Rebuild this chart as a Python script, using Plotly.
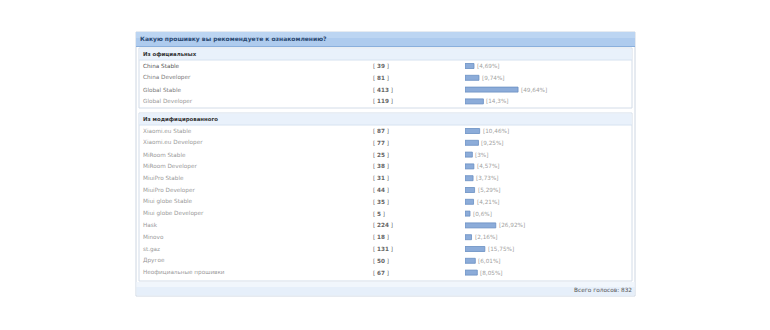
import plotly.graph_objects as go

# ---------------- data ----------------
title = "Какую прошивку вы рекомендуете к ознакомлению?"
section_names = ["Из официальных", "Из модифицированного"]
official_labels = ["China Stable", "China Developer", "Global Stable", "Global Developer"]
official_votes = [39, 81, 413, 119]
official_pct = [4.69, 9.74, 49.64, 14.3]
modified_labels = ["Xiaomi.eu Stable", "Xiaomi.eu Developer", "MiRoom Stable", "MiRoom Developer",
                   "MiuiPro Stable", "MiuiPro Developer", "Miui globe Stable", "Miui globe Developer",
                   "Hask", "Minovo", "st.gaz", "Другое", "Неофициальные прошивки"]
modified_votes = [87, 77, 25, 38, 31, 44, 35, 5, 224, 18, 131, 50, 67]
modified_pct = [10.46, 9.25, 3, 4.57, 3.73, 5.29, 4.21, 0.6, 26.92, 2.16, 15.75, 6.01, 8.05]
total_votes = 832

# ---------------- layout helpers ----------------
W, H = 770, 330
FONT = "DejaVu Sans"
PITCH = 11.8
SEC1_FIRST = 66
SEC2_FIRST = 131
BAR_X0 = 465
PX_PER_PCT = 0.98
BAR_MIN = 4.5  # bars start slightly before zero (min width)

def px(x):
    return x / W

def py(y):
    return 1 - y / H

def fmt_pct(p):
    s = ("%.2f" % p).rstrip("0").rstrip(".")
    return "[" + s.replace(".", ",") + "%]"

rows = []
for i, (l, v, p) in enumerate(zip(official_labels, official_votes, official_pct)):
    rows.append((l, v, p, SEC1_FIRST + i * PITCH))
for j, (l, v, p) in enumerate(zip(modified_labels, modified_votes, modified_pct)):
    rows.append((l, v, p, SEC2_FIRST + j * PITCH))

fig = go.Figure()
fig.add_trace(go.Bar(
    orientation="h",
    x=[r[2] + BAR_MIN for r in rows],
    base=-BAR_MIN,
    y=[r[3] for r in rows],
    width=5,
    marker=dict(color="#8cacd9", line=dict(color="#6a8fc3", width=0.8)),
    hoverinfo="skip",
))

shapes = []
def rect(x0, y0, x1, y1, fill, line=None, lw=1):
    shapes.append(dict(type="rect", xref="paper", yref="paper",
                       x0=px(x0), x1=px(x1), y0=py(y1), y1=py(y0),
                       fillcolor=fill, line=dict(color=line or "rgba(0,0,0,0)", width=lw if line else 0),
                       layer="below"))

def hline(x0, x1, y, color, w=1):
    shapes.append(dict(type="line", xref="paper", yref="paper",
                       x0=px(x0), x1=px(x1), y0=py(y), y1=py(y),
                       line=dict(color=color, width=w), layer="below"))

# outer panel
rect(136, 32, 635, 296, "#ffffff", "#cdd6e2")
# header gradient
rect(136, 32, 635, 46, "#aecbee")
rect(136, 32, 635, 38, "#bcd5f2")
hline(136, 635, 46.5, "#8aafdc", 1)
# section boxes
rect(139, 48, 632, 108, "#ffffff", "#d3dce8")
rect(139.5, 48.5, 631.5, 60, "#e9f1fb")
hline(139, 632, 60, "#d6e2f0")
rect(139, 113, 632, 281, "#ffffff", "#d3dce8")
rect(139.5, 113.5, 631.5, 125, "#e9f1fb")
hline(139, 632, 125, "#d6e2f0")
# footer
rect(136.5, 282, 634.5, 295.5, "#e6effa")
rect(136.5, 282, 634.5, 287, "#f1f6fc")

annotations = []
def text(x, y, s, size=5.6, color="#888888", bold=False, anchor="left", xref="paper", shift=0):
    annotations.append(dict(
        x=px(x) if xref == "paper" else x, y=py(y), xref=xref, yref="paper",
        text=("<b>%s</b>" % s) if bold else s, showarrow=False,
        xanchor=anchor, yanchor="middle", xshift=shift, borderpad=0,
        font=dict(family=FONT, size=size, color=color)))

text(139, 39.5, title, size=6, color="#2c4a72", bold=True)
text(142, 54.5, section_names[0], size=5.4, color="#333333", bold=True)
text(142, 119.5, section_names[1], size=5.4, color="#333333", bold=True)

for k, (l, v, p, y) in enumerate(rows):
    lc = "#555555" if k == 0 else ("#7a7a7a" if k < 3 else "#999999")
    text(142, y, l, size=5.7, color=lc)
    text(372, y, "[ <b>%d</b> ]" % v, size=5.7, color="#666666")
    text(p, y, fmt_pct(p), size=5.7, color="#a0a0a0", xref="x", shift=2)

text(633, 290, "Всего голосов: %d" % total_votes, size=5.8, color="#555555", anchor="right")

fig.update_layout(
    width=W, height=H,
    margin=dict(l=0, r=0, t=0, b=0),
    paper_bgcolor="#ffffff", plot_bgcolor="rgba(0,0,0,0)",
    showlegend=False,
    shapes=shapes, annotations=annotations,
    xaxis=dict(domain=[px(BAR_X0), 1], range=[-BAR_MIN, -BAR_MIN + (W - BAR_X0) / PX_PER_PCT],
               visible=False, fixedrange=True),
    yaxis=dict(domain=[0, 1], range=[H, 0], visible=False, fixedrange=True),
)
fig.write_html("out.html", config={"displayModeBar": False})
